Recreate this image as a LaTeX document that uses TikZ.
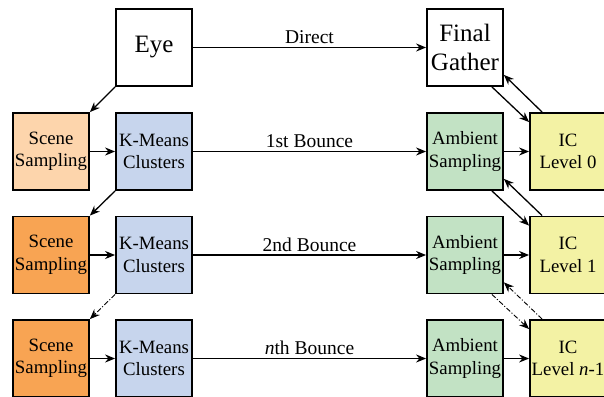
\documentclass[tikz,border=0pt]{standalone}
\usepackage{fontspec}
\setmainfont{Liberation Serif}
\usetikzlibrary{arrows.meta}
\definecolor{ssone}{HTML}{FDD5AC}
\definecolor{sstwo}{HTML}{F8A453}
\definecolor{kmblue}{HTML}{C7D5ED}
\definecolor{ambgreen}{HTML}{C2E2C4}
\definecolor{icyellow}{HTML}{F3F2A4}
\tikzset{
  box/.style={draw, line width=1.8pt, minimum width=76pt, minimum height=77pt, inner sep=0pt, align=center, font=\fontsize{18.8}{22.5}\selectfont},
  bigbox/.style={box, font=\fontsize{25}{29}\selectfont},
  arr/.style={line width=1.3pt, -{Stealth[length=10pt,width=8pt]}},
  dasharr/.style={arr, line width=0.9pt, dash pattern=on 5pt off 2pt on 1pt off 2pt},
  lbl/.style={above, inner sep=3pt, font=\fontsize{19.5}{21}\selectfont}
}
\begin{document}
\begin{tikzpicture}[x=1pt,y=-1pt]
\useasboundingbox (0,0) rectangle (604,396);
% top row
\node[bigbox] (eye) at (154,47.5) {Eye};
\node[bigbox] (fg) at (465,47.5) {Final\\Gather};
% row 1
\node[box, fill=ssone] (ss1) at (51,151.5) {Scene\\Sampling};
\node[box, fill=kmblue] (km1) at (154,151.5) {K-Means\\Clusters};
\node[box, fill=ambgreen] (am1) at (465,151.5) {Ambient\\Sampling};
\node[box, fill=icyellow] (ic1) at (568,151.5) {IC\\Level 0};
% row 2
\node[box, fill=sstwo] (ss2) at (51,255) {Scene\\Sampling};
\node[box, fill=kmblue] (km2) at (154,255) {K-Means\\Clusters};
\node[box, fill=ambgreen] (am2) at (465,255) {Ambient\\Sampling};
\node[box, fill=icyellow] (ic2) at (568,255) {IC\\Level 1};
% row 3
\node[box, fill=sstwo] (ss3) at (51,358.5) {Scene\\Sampling};
\node[box, fill=kmblue] (km3) at (154,358.5) {K-Means\\Clusters};
\node[box, fill=ambgreen] (am3) at (465,358.5) {Ambient\\Sampling};
\node[box, fill=icyellow] (ic3) at (568,358.5) {IC\\Level \textit{n}-1};
% horizontal connectors
\draw[arr] (eye.east) -- node[lbl] {Direct} (fg.west);
\draw[arr] (km1.east) -- node[lbl] {1st Bounce} (am1.west);
\draw[arr] (km2.east) -- node[lbl] {2nd Bounce} (am2.west);
\draw[arr] (km3.east) -- node[lbl] {\textit{n}th Bounce} (am3.west);
\draw[arr] (ss1.east) -- (km1.west);
\draw[arr] (ss2.east) -- (km2.west);
\draw[arr] (ss3.east) -- (km3.west);
\draw[arr] (am1.east) -- (ic1.west);
\draw[arr] (am2.east) -- (ic2.west);
\draw[arr] (am3.east) -- (ic3.west);
% diagonal left
\draw[arr] (eye.south west) -- (ss1.north east);
\draw[arr] (km1.south west) -- (ss2.north east);
\draw[dasharr] (km2.south west) -- (ss3.north east);
% diagonal right
\draw[arr] ([xshift=-12pt]fg.south east) -- ([yshift=-10pt]ic1.north west);
\draw[arr] ([xshift=13pt]ic1.north west) -- ([yshift=12pt]fg.south east);
\draw[arr] ([xshift=-12pt]am1.south east) -- ([yshift=-10pt]ic2.north west);
\draw[arr] ([xshift=13pt]ic2.north west) -- ([yshift=12pt]am1.south east);
\draw[dasharr] ([xshift=-12pt]am2.south east) -- ([yshift=-10pt]ic3.north west);
\draw[dasharr] ([xshift=13pt]ic3.north west) -- ([yshift=12pt]am2.south east);
\end{tikzpicture}
\end{document}
